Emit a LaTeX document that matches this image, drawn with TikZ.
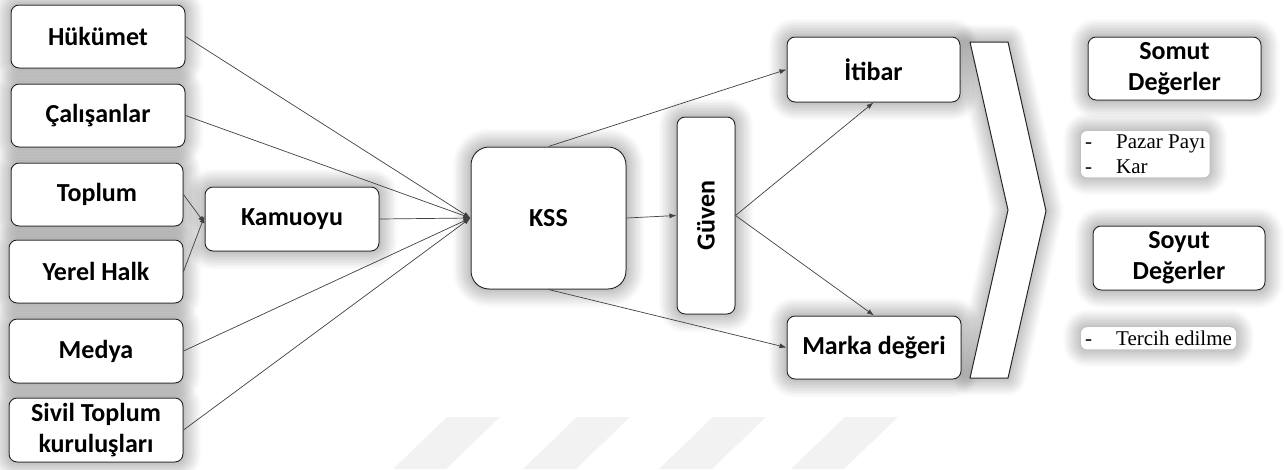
\documentclass[tikz,border=0pt]{standalone}
\usepackage{fontspec}
\setmainfont{Carlito}
\newfontfamily\serifnote{Liberation Serif}
\usetikzlibrary{arrows.meta,shadows.blur,backgrounds}

\tikzset{
  glow/.style={blur shadow={shadow xshift=0pt,shadow yshift=0pt,
    shadow blur radius=18pt,shadow opacity=50,shadow blur steps=12}},
  kutu/.style={draw=black!85,line width=1pt,fill=white,rounded corners=8pt,
    font=\fontsize{26}{31}\selectfont\bfseries,align=center,inner sep=0pt},
  notu/.style={inner sep=0pt,anchor=base west,
    font=\fontsize{21}{25}\serifnote},
  ok/.style={draw=black!75,line width=0.7pt,-{Latex[length=7pt,width=5pt]}}
}

\begin{document}
\begin{tikzpicture}[x=1pt,y=-1pt,line join=round]
  \useasboundingbox (0,0) rectangle (1285,469);

  % Silik arka plan seritleri
  \foreach \xa in {447,577,713,845}
    \fill[black!5] (\xa,417) -- ++(53,0) -- ++(-54,52) -- ++(-53,0) -- cycle;

  % Paydaslar
  \node[kutu,minimum width=174pt,minimum height=63pt] (hukumet) at (98,36.5) {Hükümet};
  \node[kutu,minimum width=174pt,minimum height=63pt] (calisanlar) at (98,115.5) {Çalışanlar};
  \node[kutu,minimum width=172pt,minimum height=63pt] (toplum) at (97,194.5) {Toplum};
  \node[kutu,minimum width=174pt,minimum height=63pt] (yerel) at (96,271.5) {Yerel Halk};
  \node[kutu,minimum width=174pt,minimum height=64pt] (medya) at (96,351) {Medya};
  \node[kutu,minimum width=174pt,minimum height=64pt] (sivil) at (96,430)
    {Sivil Toplum\\kuruluşları};
  \node[kutu,minimum width=174pt,minimum height=64pt] (kamuoyu) at (292,219) {Kamuoyu};

  % Orta kisim
  \node[kutu,rounded corners=18pt,minimum width=155pt,minimum height=142pt] (kss) at (548.5,218) {KSS};
  \node[kutu,minimum width=58pt,minimum height=197pt] (guven) at (706,215.5)
    {\rotatebox{90}{Güven}};
  \node[kutu,minimum width=173pt,minimum height=65pt] (itibar) at (873.5,69.5) {İtibar};
  \node[kutu,minimum width=174pt,minimum height=63pt] (marka) at (874,347.5) {Marka değeri};

  % Buyuk ok
  \coordinate (ka) at (970,42);
  \coordinate (kb) at (1008,42);
  \coordinate (kc) at (1046,211);
  \coordinate (kd) at (1008,378);
  \coordinate (ke) at (970,378);
  \coordinate (kf) at (1008,210);
  \filldraw[fill=white,draw=black!85,line width=1pt] (ka)--(kb)--(kc)--(kd)--(ke)--(kf)--cycle;

  % Degerler
  \node[kutu,minimum width=173pt,minimum height=63pt] (somut) at (1174.5,68.5) {Somut\\Değerler};
  \node[kutu,minimum width=172pt,minimum height=64pt] (soyut) at (1179,258) {Soyut\\Değerler};
  \node[notu] (pazar) at (1085,148) {-\hspace{24pt}Pazar Payı};
  \node[notu] (kar) at (1085,173) {-\hspace{24pt}Kar};
  \node[notu] (tercih) at (1085,345) {-\hspace{24pt}Tercih edilme};

  % Baglantilar
  \draw[ok] (toplum.east) -- ([yshift=-4pt]kamuoyu.west);
  \draw[ok] (yerel.east) -- ([yshift=3pt]kamuoyu.west);
  \draw[ok] (hukumet.east) -- (kss.west);
  \draw[ok] (calisanlar.east) -- (kss.west);
  \draw[ok] (kamuoyu.east) -- (kss.west);
  \draw[ok] (medya.east) -- (kss.west);
  \draw[ok] (sivil.east) -- (kss.west);

  \draw[ok] (kss.east) -- (guven.west);
  \draw[ok] (kss.north) -- (itibar.west);
  \draw[ok] (kss.south) -- (marka.west);
  \draw[ok] (guven.east) -- (itibar.south);
  \draw[ok] (guven.east) -- (marka.north);

  % Golgeler
  \begin{pgfonlayer}{background}
    \foreach \n in {hukumet,calisanlar,toplum,yerel,medya,sivil,kamuoyu,
                    guven,itibar,marka,somut,soyut}
      \fill[white,glow,rounded corners=8pt] (\n.south west) rectangle (\n.north east);
    \fill[white,glow,rounded corners=18pt] (kss.south west) rectangle (kss.north east);
    \fill[white,glow] (ka)--(kb)--(kc)--(kd)--(ke)--(kf)--cycle;
    \fill[white,glow,rounded corners=6pt] ([shift={(-4,-3)}]pazar.north west)
      rectangle ([shift={(4,4)}]pazar.east |- kar.south);
    \fill[white,glow,rounded corners=6pt] ([shift={(-4,-3)}]tercih.north west)
      rectangle ([shift={(4,4)}]tercih.south east);
  \end{pgfonlayer}
\end{tikzpicture}
\end{document}
